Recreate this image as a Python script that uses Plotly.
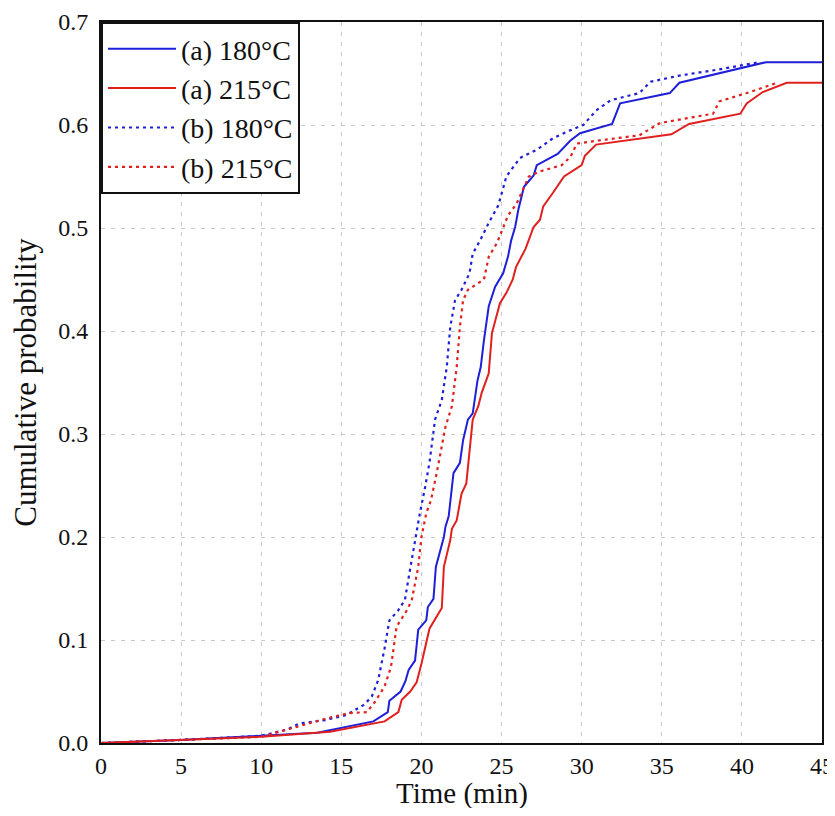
import plotly.graph_objects as go

a180_x = [0, 5, 10, 12.4, 13.5, 17.0, 17.9, 18.0, 18.7, 19.0, 19.2, 19.6, 19.8, 20.3, 20.4, 20.75, 20.9, 21.4, 21.5, 21.7, 22.0, 22.4, 22.6, 22.9, 23.2, 23.5, 23.7, 23.9, 24.2, 24.6, 25.1, 25.4, 25.6, 25.85, 26.05, 26.4, 27.0, 27.2, 28.5, 29.3, 29.9, 31.9, 32.4, 35.5, 36.1, 41.5, 45]
a180_y = [0, 0.003, 0.007, 0.009, 0.010, 0.021, 0.030, 0.041, 0.050, 0.060, 0.071, 0.080, 0.110, 0.119, 0.132, 0.140, 0.171, 0.200, 0.210, 0.220, 0.262, 0.272, 0.294, 0.314, 0.320, 0.352, 0.365, 0.391, 0.424, 0.443, 0.456, 0.472, 0.488, 0.501, 0.518, 0.540, 0.551, 0.561, 0.572, 0.585, 0.592, 0.601, 0.621, 0.631, 0.641, 0.661, 0.661]

a215_x = [0, 5, 10, 14.3, 17.7, 18.56, 18.77, 19.3, 19.7, 20.0, 20.5, 21.27, 21.4, 21.8, 21.9, 22.2, 22.5, 22.8, 23.0, 23.2, 23.55, 23.76, 24.2, 24.4, 24.9, 25.3, 25.7, 25.9, 26.5, 27.0, 27.4, 27.6, 28.2, 28.9, 30.0, 30.2, 30.9, 35.6, 36.7, 39.9, 40.3, 41.3, 42.8, 45]
a215_y = [0, 0.003, 0.006, 0.011, 0.021, 0.030, 0.042, 0.050, 0.059, 0.077, 0.111, 0.131, 0.171, 0.197, 0.208, 0.216, 0.242, 0.252, 0.281, 0.314, 0.327, 0.340, 0.359, 0.398, 0.427, 0.437, 0.450, 0.462, 0.480, 0.501, 0.508, 0.521, 0.534, 0.550, 0.561, 0.570, 0.581, 0.591, 0.601, 0.611, 0.621, 0.632, 0.641, 0.641]

b180_x = [0, 5, 10, 11.6, 12.4, 13.9, 15.3, 16.4, 16.9, 17.3, 17.7, 18.0, 18.56, 18.97, 19.25, 19.4, 19.7, 19.9, 20.2, 20.5, 20.85, 21.27, 21.58, 21.8, 22.1, 22.5, 23.0, 23.2, 23.66, 24.2, 24.8, 25.3, 26.15, 27.2, 28.2, 29.3, 30.1, 30.9, 31.8, 33.6, 34.3, 36.1, 38.6, 41.1]
b180_y = [0, 0.003, 0.007, 0.013, 0.019, 0.022, 0.027, 0.037, 0.045, 0.061, 0.092, 0.119, 0.129, 0.139, 0.165, 0.178, 0.207, 0.223, 0.246, 0.272, 0.314, 0.333, 0.365, 0.404, 0.430, 0.440, 0.456, 0.475, 0.488, 0.505, 0.522, 0.550, 0.568, 0.576, 0.587, 0.595, 0.600, 0.614, 0.624, 0.631, 0.642, 0.648, 0.654, 0.661]

b215_x = [0, 5, 10, 12.4, 14.1, 15.5, 16.6, 17.1, 17.7, 18.1, 18.45, 19.1, 19.4, 19.6, 19.8, 20.0, 20.3, 20.6, 20.95, 21.5, 21.9, 22.2, 22.4, 22.6, 22.9, 23.9, 24.2, 24.7, 25.1, 25.4, 25.95, 26.7, 27.4, 28.75, 29.3, 29.7, 31.1, 33.6, 34.9, 38.2, 38.6, 40.3, 42.2]
b215_y = [0, 0.003, 0.006, 0.0165, 0.024, 0.029, 0.030, 0.040, 0.055, 0.074, 0.113, 0.129, 0.139, 0.155, 0.171, 0.200, 0.223, 0.236, 0.262, 0.307, 0.327, 0.365, 0.404, 0.430, 0.440, 0.450, 0.472, 0.485, 0.501, 0.512, 0.524, 0.550, 0.555, 0.561, 0.569, 0.582, 0.585, 0.590, 0.602, 0.611, 0.623, 0.631, 0.641]

x_ticks = [0, 5, 10, 15, 20, 25, 30, 35, 40, 45]
y_ticks = [0.0, 0.1, 0.2, 0.3, 0.4, 0.5, 0.6, 0.7]
y_tick_labels = ["0.0", "0.1", "0.2", "0.3", "0.4", "0.5", "0.6", "0.7"]
x_title = "Time (min)"
y_title = "Cumulative probability"

BLUE = "#1f1fd8"
RED = "#e0201e"
DOT = "3px,4px"

fig = go.Figure()
fig.add_trace(go.Scatter(x=a180_x, y=a180_y, mode="lines", name="(a) 180°C",
                         line=dict(color=BLUE, width=2)))
fig.add_trace(go.Scatter(x=a215_x, y=a215_y, mode="lines", name="(a) 215°C",
                         line=dict(color=RED, width=2)))
fig.add_trace(go.Scatter(x=b180_x, y=b180_y, mode="lines", name="(b) 180°C",
                         line=dict(color=BLUE, width=2.2, dash=DOT)))
fig.add_trace(go.Scatter(x=b215_x, y=b215_y, mode="lines", name="(b) 215°C",
                         line=dict(color=RED, width=2.2, dash=DOT)))

FONT = "Liberation Serif, Times New Roman, serif"
grid = dict(showgrid=True, gridcolor="#c8c8c8", griddash="4px,6px", gridwidth=1.2)

# page body has an 8px margin, so the figure starts at (8, 8)
fig.update_layout(
    width=827, height=800,
    margin=dict(l=93, r=13, t=14, b=65),
    paper_bgcolor="white", plot_bgcolor="white",
    font=dict(family=FONT, color="#111111", size=24),
    showlegend=True,
    legend=dict(x=0, y=1, xanchor="left", yanchor="top",
                bgcolor="white", bordercolor="#111111", borderwidth=2,
                font=dict(family=FONT, size=28, color="#111111"),
                tracegroupgap=0, itemwidth=68),
    xaxis=dict(range=[0, 45], tickvals=x_ticks, ticks="", ticklen=0,
               showline=True, automargin=False, ticklabeloverflow="allow",
               linecolor="#111111", linewidth=2, mirror=True, zeroline=False,
               tickfont=dict(size=24), **grid),
    yaxis=dict(range=[0, 0.7], tickvals=y_ticks, ticktext=y_tick_labels, ticks="outside",
               tickcolor="rgba(0,0,0,0)", ticklen=6, automargin=False,
               ticklabeloverflow="allow",
               showline=True, linecolor="#111111", linewidth=2, mirror=True,
               zeroline=False, tickfont=dict(size=24),
               title=dict(text=y_title, font=dict(size=31), standoff=16), **grid),
    annotations=[dict(text=x_title, xref="paper", yref="paper", x=0.5, y=0,
                      xanchor="center", yanchor="middle", yshift=-50, showarrow=False,
                      font=dict(family=FONT, size=29, color="#111111"))],
)

fig.write_html("out.html")
